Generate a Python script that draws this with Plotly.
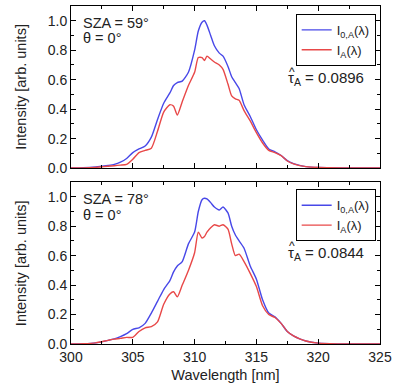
import plotly.graph_objects as go
from plotly.subplots import make_subplots

wavelength = [300, 301, 302, 303, 303.5, 304, 304.5, 305, 305.5, 306, 306.5, 307, 307.5,
              308, 308.3, 308.6, 309, 309.5, 310, 310.3, 310.6, 310.8, 311, 311.3, 311.6,
              312, 312.3, 312.7, 313, 313.3, 313.6, 314, 314.5, 315, 315.5, 316, 316.5,
              317, 317.5, 318, 318.5, 319, 320, 322, 325]

i0_sza59 = [0.0, 0.002, 0.008, 0.018, 0.025, 0.04, 0.065, 0.105, 0.13, 0.15, 0.21, 0.33, 0.44,
            0.51, 0.56, 0.58, 0.59, 0.65, 0.80, 0.93, 0.99, 1.0, 0.97, 0.90, 0.83,
            0.78, 0.76, 0.69, 0.62, 0.58, 0.54, 0.43, 0.35, 0.26, 0.19, 0.13, 0.11,
            0.085, 0.05, 0.03, 0.018, 0.01, 0.004, 0.001, 0.0]
i_sza59 = [0.0, 0.001, 0.005, 0.012, 0.016, 0.02, 0.025, 0.06, 0.105, 0.12, 0.135, 0.25, 0.38,
           0.43, 0.42, 0.36, 0.45, 0.56, 0.65, 0.75, 0.75, 0.73, 0.76, 0.74, 0.72,
           0.70, 0.67, 0.57, 0.49, 0.47, 0.46, 0.39, 0.32, 0.24, 0.17, 0.12, 0.105,
           0.085, 0.048, 0.028, 0.017, 0.01, 0.004, 0.001, 0.0]
i0_sza78 = [0.0, 0.002, 0.008, 0.025, 0.035, 0.05, 0.07, 0.10, 0.11, 0.14, 0.21, 0.29, 0.37,
            0.43, 0.49, 0.53, 0.56, 0.68, 0.76, 0.90, 0.98, 0.99, 0.985, 0.96, 0.93,
            0.91, 0.93, 0.89, 0.80, 0.74, 0.70, 0.65, 0.53, 0.44, 0.30, 0.21, 0.185,
            0.14, 0.085, 0.055, 0.035, 0.02, 0.006, 0.001, 0.0]
i_sza78 = [0.0, 0.002, 0.008, 0.025, 0.033, 0.038, 0.045, 0.045, 0.085, 0.11, 0.118, 0.15, 0.27,
           0.34, 0.355, 0.32, 0.40, 0.50, 0.62, 0.76, 0.72, 0.73, 0.76, 0.79, 0.81,
           0.80, 0.81, 0.78, 0.68, 0.60, 0.61, 0.56, 0.48, 0.39, 0.26, 0.20, 0.18,
           0.14, 0.085, 0.055, 0.035, 0.02, 0.006, 0.001, 0.0]

panel_labels = [["SZA = 59°", "θ = 0°"], ["SZA = 78°", "θ = 0°"]]
tau_labels = ["0.0896", "0.0844"]

BLUE = "rgb(72,72,232)"
RED = "rgb(232,72,72)"
FONT = "Liberation Sans, Arial, sans-serif"
TXT = "#222"

fig = make_subplots(rows=2, cols=1, shared_xaxes=False, vertical_spacing=0.0413)

series = [(i0_sza59, i_sza59, "legend"), (i0_sza78, i_sza78, "legend2")]
for r, (i0, ii, lg) in enumerate(series, start=1):
    fig.add_trace(go.Scatter(x=wavelength, y=i0, mode="lines",
                             line=dict(color=BLUE, width=1.4, shape="spline", smoothing=0.6),
                             name="I<sub>0,A</sub>(λ)", legend=lg), row=r, col=1)
    fig.add_trace(go.Scatter(x=wavelength, y=ii, mode="lines",
                             line=dict(color=RED, width=1.4, shape="spline", smoothing=0.6),
                             name="I<sub>A</sub>(λ)", legend=lg), row=r, col=1)

axis_common = dict(showline=True, linecolor="black", linewidth=1, mirror="allticks",
                   ticks="inside", ticklen=5, tickcolor="black", showgrid=False, zeroline=False,
                   tickfont=dict(size=14, color=TXT, family=FONT))
for r in (1, 2):
    fig.update_xaxes(range=[300, 325], dtick=5, tick0=300, ticklabeloverflow="allow",
                     minor=dict(ticks="inside", ticklen=3, dtick=2.5, tick0=300, tickcolor="black", showgrid=False),
                     showticklabels=(r == 2), row=r, col=1, **axis_common)
    fig.update_yaxes(range=[0, 1.1], dtick=0.2, tick0=0, tickformat=".1f",
                     minor=dict(ticks="inside", ticklen=3, dtick=0.1, tick0=0, tickcolor="black", showgrid=False),
                     row=r, col=1, **axis_common)

fig.update_xaxes(title=dict(text="Wavelength [nm]", font=dict(size=14.5, color=TXT, family=FONT), standoff=6),
                 row=2, col=1)

fig.update_layout(yaxis=dict(domain=[0.5205, 1.0]), yaxis2=dict(domain=[0.0, 0.4792]))

legend_common = dict(bordercolor="black", borderwidth=1, bgcolor="white", xanchor="right", yanchor="top",
                     font=dict(size=13, color=TXT, family=FONT), tracegroupgap=0, itemwidth=30)
fig.update_layout(
    legend=dict(x=0.986, y=(344.3 - 13) / 339.3, **legend_common),
    legend2=dict(x=0.986, y=(344.3 - 189) / 339.3, **legend_common),
)

ann = []
tops = [(22.5, 37.5, 78), (199, 215, 253)]
for (lab1, lab2), tau, (y1, y2, yt) in zip(panel_labels, tau_labels, tops):
    for txt, yy in ((lab1, y1), (lab2, y2)):
        ann.append(dict(text=txt, xref="paper", yref="paper", x=(81 - 71) / 316, y=(344.3 - yy) / 339.3,
                        xanchor="left", yanchor="middle", showarrow=False,
                        font=dict(size=14.5, color=TXT, family=FONT)))
    ann.append(dict(text="τ<sub>A</sub> = " + tau, xref="paper", yref="paper", x=(291 - 71) / 316,
                    y=(344.3 - yt) / 339.3, xanchor="left", yanchor="middle", showarrow=False,
                    font=dict(size=15, color=TXT, family=FONT)))
    ann.append(dict(text="^", xref="paper", yref="paper", x=(296.5 - 71) / 316,
                    y=(344.3 - (yt - 7)) / 339.3, xanchor="center", yanchor="middle", showarrow=False,
                    font=dict(size=12, color=TXT, family=FONT)))
for yc in (86, 263):
    ann.append(dict(text="Intensity [arb. units]", xref="paper", yref="paper", x=(20 - 71) / 316,
                    y=(344.3 - yc) / 339.3, xanchor="center", yanchor="middle", textangle=-90,
                    showarrow=False, font=dict(size=14.5, color=TXT, family=FONT)))

fig.update_layout(
    width=397, height=388, margin=dict(l=71, r=10, t=5, b=43.7),
    paper_bgcolor="white", plot_bgcolor="white", annotations=ann,
)

fig.write_html("out.html")
